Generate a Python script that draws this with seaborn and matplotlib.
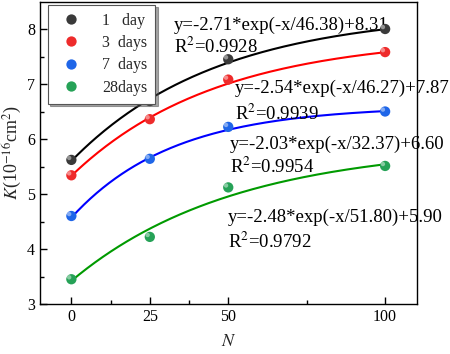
import numpy as np
import pandas as pd
import matplotlib
matplotlib.use("Agg")
import matplotlib.pyplot as plt
import seaborn as sns

# measured data
N_VALUES = [0, 25, 50, 100]
K_1DAY = [5.62, 6.69, 7.45, 8.00]
K_3DAY = [5.34, 6.36, 7.08, 7.58]
K_7DAY = [4.60, 5.64, 6.22, 6.50]
K_28DAY = [3.45, 4.22, 5.12, 5.51]

SERIES = ["1   day", "3  days", "7  days", "28days"]

# fit parameters y = A*exp(-x/t) + y0 (as printed on the chart)
FIT_A = [-2.71, -2.54, -2.03, -2.48]
FIT_T = [46.38, 46.27, 32.37, 51.80]
FIT_Y0 = [8.31, 7.87, 6.60, 5.90]
FIT_R2 = ["0.9928", "0.9939", "0.9954", "0.9792"]

LINE_COLORS = ["#000000", "#ff0000", "#0000ff", "#009a00"]
DOT_COLORS = ["#3a3a3a", "#ee2b2b", "#1f66e8", "#26a257"]

sns.set_theme(style="ticks")
plt.rcParams["font.family"] = ["Liberation Serif", "DejaVu Serif"]
plt.rcParams["mathtext.fontset"] = "stix"

fig, ax = plt.subplots(figsize=(4.5, 3.54), dpi=100)
fig.subplots_adjust(left=40 / 450, right=416.5 / 450, bottom=1 - 304 / 354, top=1 - 1.5 / 354)

df = pd.DataFrame({"N": N_VALUES * 4,
                   "K": K_1DAY + K_3DAY + K_7DAY + K_28DAY,
                   "series": [s for s in SERIES for _ in N_VALUES]})

# fitted curves
x_fit = np.linspace(0, 100, 200)
for i, s in enumerate(SERIES):
    y_fit = FIT_A[i] * np.exp(-x_fit / FIT_T[i]) + FIT_Y0[i]
    sns.lineplot(x=x_fit, y=y_fit, ax=ax, color=LINE_COLORS[i], lw=1.5, legend=False)

# points (shaded ball look)
sns.scatterplot(data=df, x="N", y="K", hue="series", palette=dict(zip(SERIES, DOT_COLORS)),
                s=55, edgecolor="none", ax=ax, zorder=5)
for i, s in enumerate(SERIES):
    sub = df[df["series"] == s]
    ax.scatter(sub["N"] - 0.7, sub["K"] + 0.035, s=10, color="white", alpha=0.45,
               edgecolor="none", zorder=6)

# equations
EQ_POS = [(32.8, 8.07, 7.67), (52.2, 6.93, 6.45), (50.6, 5.91, 5.49), (50.0, 4.58, 4.13)]
for i, (xp, ye, yr) in enumerate(EQ_POS):
    ax.text(xp, ye, f"y={FIT_A[i]:.2f}*exp(-x/{FIT_T[i]:.2f})+{FIT_Y0[i]:.2f}",
            fontsize=13.5, va="center", ha="left", color="black")
    ax.text(xp, yr, "R$^2$=" + FIT_R2[i], fontsize=13.5, va="center", ha="left", color="black")

ax.set_xlim(-10, 110)
ax.set_ylim(3, 8.5)
ax.set_xticks([0, 25, 50, 100])
ax.set_xticks([12.5, 37.5, 75], minor=True)
ax.set_yticks([3, 4, 5, 6, 7, 8])
ax.set_yticks([3.5, 4.5, 5.5, 6.5, 7.5], minor=True)
ax.tick_params(axis="both", which="both", direction="in", labelsize=11.5, colors="black",
               width=1.0)
ax.tick_params(which="major", length=5)
ax.tick_params(which="minor", length=3)
for sp in ax.spines.values():
    sp.set_visible(True)
    sp.set_color("black")
    sp.set_linewidth(1.0)

ax.set_xlabel("$N$", fontsize=13, labelpad=6)
ax.set_ylabel("$K$(10$^{-16}$cm$^2$)", fontsize=13, labelpad=2)

handles, labels = ax.get_legend_handles_labels()
leg = ax.legend(handles, labels, loc="upper left", bbox_to_anchor=(0.02, 0.99),
                borderaxespad=0, fontsize=11.5, frameon=True, fancybox=False, shadow=True,
                handletextpad=0.9, borderpad=0.5, labelspacing=0.4, markerscale=1.0)
leg.get_frame().set_edgecolor("#555555")
leg.get_frame().set_facecolor("white")
leg.get_frame().set_alpha(1.0)
leg.get_frame().set_linewidth(0.8)

fig.savefig("out.png", dpi=100)
